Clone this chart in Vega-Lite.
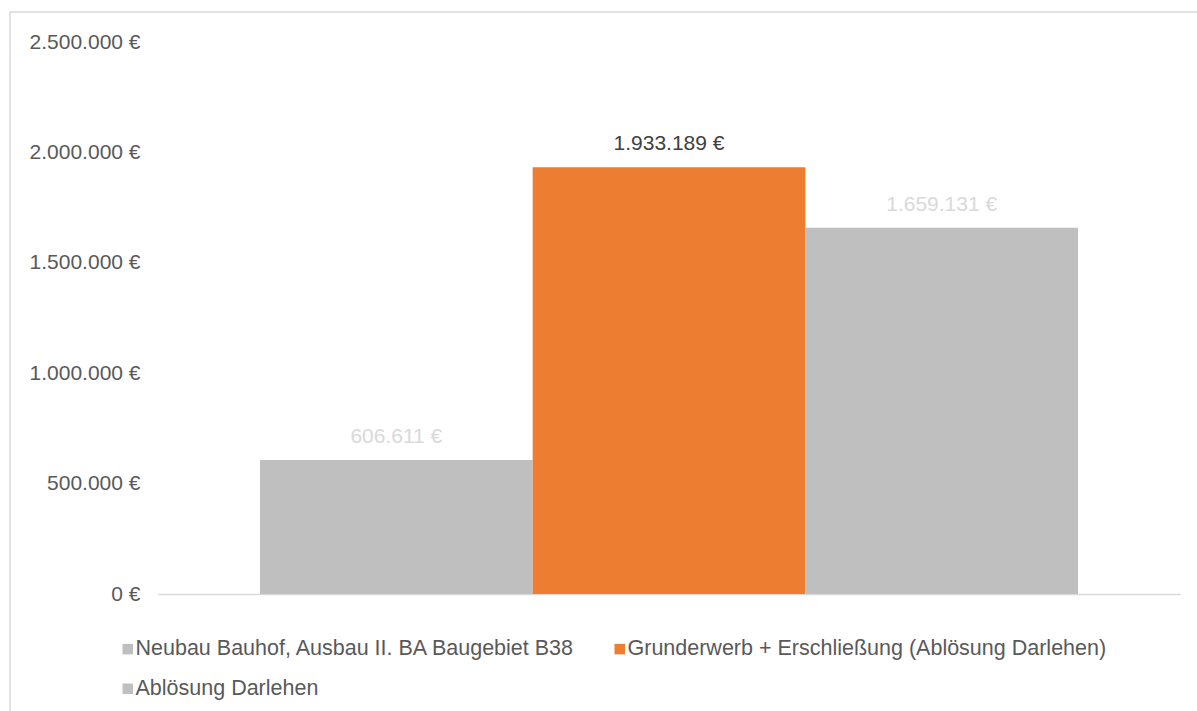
{
  "$schema": "https://vega.github.io/schema/vega-lite/v6.json",
  "autosize": {"type": "none"},
  "padding": {"left": 10, "top": 12, "right": 0, "bottom": 0},
  "width": 1200,
  "height": 710,
  "config": {
    "font": "Liberation Sans",
    "view": {"stroke": "#D9D9D9", "strokeWidth": 1.5},
    "locale": {"number": {"decimal": ",", "thousands": ".", "grouping": [3], "currency": ["", " €"]}}
  },
  "data": {
    "values": [
      {"category": "Neubau Bauhof, Ausbau II. BA Baugebiet B38", "value": 606611},
      {"category": "Grunderwerb + Erschließung (Ablösung Darlehen)", "value": 1933189},
      {"category": "Ablösung Darlehen", "value": 1659131}
    ]
  },
  "transform": [
    {"calculate": "format(datum.value, ',.0f') + ' €'", "as": "label"}
  ],
  "encoding": {
    "x": {
      "field": "category",
      "type": "nominal",
      "sort": null,
      "scale": {"range": [148, 1170], "paddingInner": 0, "paddingOuter": 0.374},
      "axis": {
        "orient": "bottom",
        "offset": -128,
        "title": null,
        "labels": false,
        "ticks": false,
        "domainColor": "#D9D9D9",
        "domainWidth": 1.5
      }
    },
    "y": {
      "field": "value",
      "type": "quantitative",
      "scale": {"domain": [0, 2500000], "range": [582, 30], "nice": false},
      "axis": {
        "orient": "left",
        "offset": -148,
        "values": [0, 500000, 1000000, 1500000, 2000000, 2500000],
        "labelExpr": "format(datum.value, ',.0f') + ' €'",
        "labelFontSize": 21,
        "labelColor": "#595959",
        "labelPadding": 18,
        "domain": false,
        "ticks": false,
        "grid": false,
        "title": null
      }
    }
  },
  "layer": [
    {
      "mark": {"type": "bar"},
      "encoding": {
        "color": {
          "field": "category",
          "type": "nominal",
          "scale": {
            "domain": [
              "Neubau Bauhof, Ausbau II. BA Baugebiet B38",
              "Grunderwerb + Erschließung (Ablösung Darlehen)",
              "Ablösung Darlehen"
            ],
            "range": ["#BFBFBF", "#ED7D31", "#BFBFBF"]
          },
          "legend": {
            "title": null,
            "orient": "none",
            "legendX": 107,
            "legendY": 626,
            "direction": "horizontal",
            "columns": 2,
            "columnPadding": 33,
            "rowPadding": 17,
            "symbolType": "square",
            "symbolSize": 110,
            "symbolStrokeWidth": 0,
            "labelFontSize": 21.5,
            "labelColor": "#595959",
            "labelOffset": -3,
            "labelLimit": 600
          }
        }
      }
    },
    {
      "mark": {"type": "text", "baseline": "middle", "dy": -23, "fontSize": 21},
      "encoding": {
        "text": {"field": "label"},
        "color": {
          "condition": {
            "test": "datum.category === 'Grunderwerb + Erschließung (Ablösung Darlehen)'",
            "value": "#404040"
          },
          "value": "#D9D9D9"
        }
      }
    }
  ]
}
